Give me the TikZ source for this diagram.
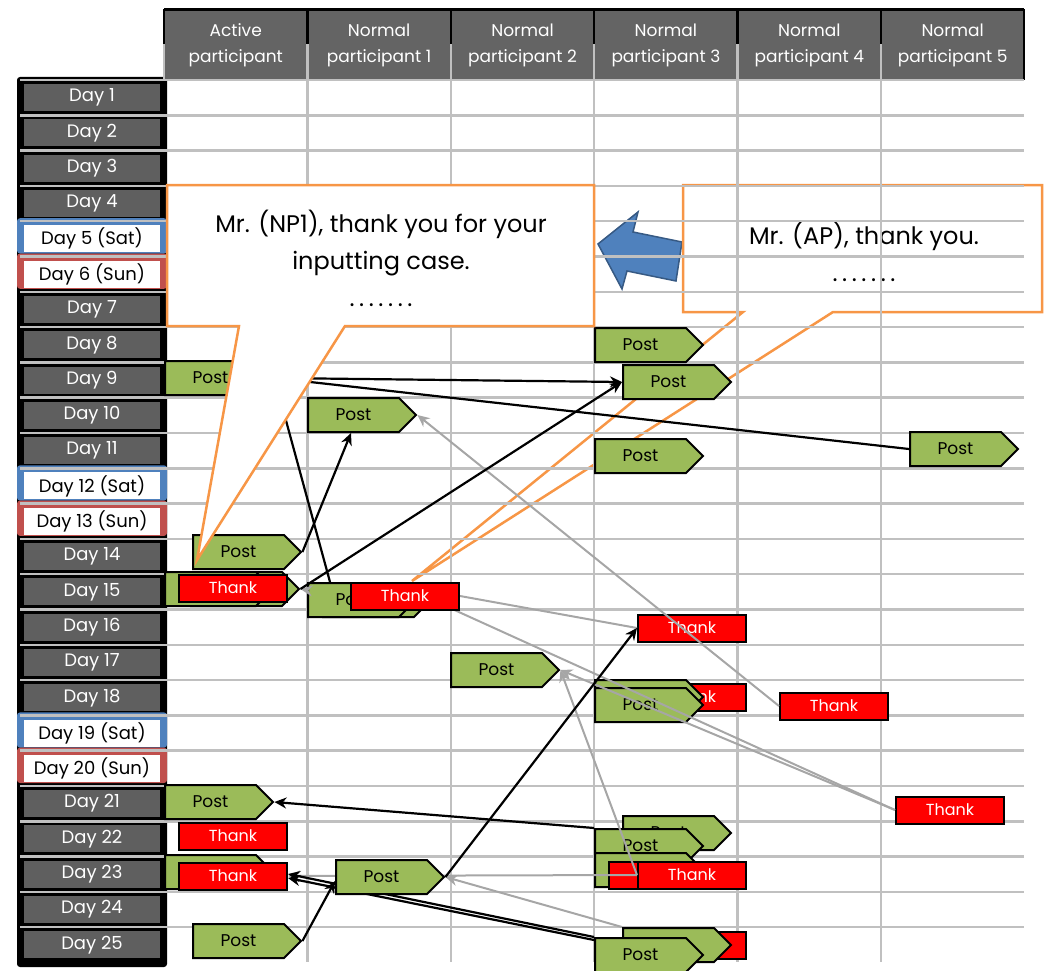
\documentclass[tikz,border=0pt]{standalone}
\usepackage{fontspec}
\setmainfont{Poppins}
\usetikzlibrary{arrows.meta, positioning, shapes.symbols}
\definecolor{postgreen}{HTML}{9BBB59}
\definecolor{thankred}{HTML}{FF0000}
\definecolor{gridgray}{HTML}{C0C0C0}
\definecolor{headgray}{HTML}{646464}
\definecolor{daygray}{HTML}{5F5F5F}
\definecolor{satblue}{HTML}{4F81BD}
\definecolor{sunred}{HTML}{C0504D}
\definecolor{noteorange}{HTML}{F79646}
\definecolor{linkgray}{HTML}{A6A6A6}
\pgfdeclarelayer{front}
\pgfsetlayers{main,front}
\newcommand{\notedots}{\hbox to 63pt{.\hfil.\hfil.\hfil.\hfil.\hfil.\hfil.}}

\begin{document}
\begin{tikzpicture}[
    x=1pt, y=-1pt,
    head/.style={fill=headgray, text=white, minimum width=143.4pt, minimum height=71pt, inner sep=0pt, align=center, font=\fontsize{17}{26}\selectfont},
    dayname/.style={fill=daygray, text=white, minimum width=136pt, minimum height=27pt, inner sep=0pt, font=\fontsize{18}{18}\selectfont},
    weekend/.style={dayname, fill=white, text=black},
    grid/.style={draw=gridgray, line width=2.5pt},
    post/.style={signal, signal to=east, signal pointer angle=90, draw=black, fill=postgreen, line width=2pt, minimum width=108pt, minimum height=34pt, inner sep=0pt, anchor=west, font=\fontsize{17}{17}\selectfont},
    thank/.style={draw=black, fill=thankred, text=white, line width=2pt, minimum width=108pt, minimum height=27pt, inner sep=0pt, anchor=west, font=\fontsize{16}{16}\selectfont},
    note/.style={draw=noteorange, line width=2.5pt, line join=miter},
    notetext/.style={align=center, font=\fontsize{24}{37}\selectfont},
    link/.style={-{Stealth[length=12pt, width=11pt]}, line width=2.2pt},
    bline/.style={line width=2.2pt},
    glink/.style={link, draw=linkgray, line width=2pt},
    gline/.style={bline, draw=linkgray, line width=2pt},
]
\useasboundingbox (0,0) rectangle (1044,971);

% Day column
\fill[black, rounded corners=3pt] (17,77) rectangle (167,967);
\foreach \k in {5,12,19}
  \fill[satblue, rounded corners=3pt] (17,{80+35.3*(\k-1)-3}) rectangle (167,{80+35.3*\k-3});
\foreach \k in {6,13,20}
  \fill[sunred, rounded corners=3pt] (17,{80+35.3*(\k-1)-3}) rectangle (167,{80+35.3*\k-3});

% Header
\foreach \c/\who in {0/{Active\\participant}, 1/{Normal\\participant 1}, 2/{Normal\\participant 2},
                     3/{Normal\\participant 3}, 4/{Normal\\participant 4}, 5/{Normal\\participant 5}}
  \node[head] (h\c) at ({164+143.4*\c+71.7},45) {\who};
\draw[line width=3pt] (164,10) -- (1024,10);
\foreach \c in {0,...,5}
  \draw[line width=2.5pt] ({164+143.4*\c},9) -- ({164+143.4*\c},44);
\draw[line width=2.5pt] (1024,9) -- (1024,80);

% Reply arrow and AP callout (behind the grid)
\filldraw[fill=satblue, draw=satblue!70!black, line width=1.5pt]
  (598,244) -- (638,212) -- (633,232) -- (682,242) -- (676,281) -- (627,271) -- (622,289) -- cycle;
\draw[note] (683,185) -- (1042,185) -- (1042,312) -- (833,312) -- (412,581) -- (743,312) -- (683,312) -- cycle;
\node[notetext] (apnote) at (864,252) {Mr. (AP), thank you.\\\notedots};

% Grid
\foreach \k in {0,...,24}
  \draw[grid] (20,{80+35.3*\k}) -- (1024,{80+35.3*\k});
\draw[grid] (164,44) -- (164,80);
\foreach \c in {1,...,5}
  \draw[grid] ({164+143.4*\c},44) -- ({164+143.4*\c},962);

% Days
\foreach \k in {1,2,3,4,7,8,9,10,11,14,15,16,17,18,21,22,23,24,25}
  \node[dayname] (d\k) at (92,{80+35.3*(\k-0.5)}) {Day \k};
\foreach \k/\w in {5/Sat,12/Sat,19/Sat,6/Sun,13/Sun,20/Sun}
  \node[weekend] (d\k) at (92,{80+35.3*(\k-0.5)}) {Day \k{} (\w)};

% Posts and thanks
\node[post] (pA9) at (164,378) {Post};
\node[post] (p3d8) at (594,345) {Post};
\node[post] (p3d9) at (622,382) {Post};
\node[post] (p1d10) at (307,415) {Post};
\node[post] (p3d11) at (594,456) {Post};
\node[post] (p5d11) at (909,449) {Post};
\node[post] (pA14) at (192,552) {Post};
\node[post] (pA15b) at (190,589) {Post};
\node[post] (pA15a) at (164,589) {Post};
\node[thank] (tA15) at (178,588) {Thank};
\node[post] (p1d15b) at (322,600) {Post};
\node[post] (p1d15a) at (307,600) {Post};
\node[thank] (t3d16) at (637,628) {Thank};
\node[post] (p2d17) at (450,670) {Post};
\node[thank] (t3d18) at (637,697) {Thank};
\node[post] (p3d18a) at (594,697) {Post};
\node[post] (p3d18b) at (594,705) {Post};
\node[thank] (t4d18) at (779,706) {Thank};
\node[thank] (t5d20) at (895,810) {Thank};
\node[post] (pA21) at (164,802) {Post};
\node[thank] (tA22) at (178,836) {Thank};
\node[post] (pA23) at (164,872) {Post};
\node[thank] (tA23) at (178,876) {Thank};
\node[post] (p3d22a) at (622,833) {Post};
\node[post] (p3d22b) at (594,846) {Post};
\node[post] (p3d23) at (594,870) {Post};
\node[thank] (t3d23a) at (608,875) {Thank};
\node[thank] (t3d23b) at (637,875) {Thank};
\node[post] (pA25) at (192,941) {Post};
\node[thank] (t3d25) at (637,945) {Thank};
\node[post] (p3d25a) at (622,945) {Post};
\node[post] (p3d25b) at (594,955) {Post};

\begin{pgfonlayer}{front}
\node[thank] (t1d15) at (350,596) {Thank};
\node[post] (p2d23) at (335,877) {Post};
\end{pgfonlayer}

% Gray links
\draw[glink] (t4d18.west) -- (p1d10.east);
\draw[gline] (p1d15b.east) -- (t5d20.west);
\draw[glink] (t5d20.west) -- (p2d17.east);
\draw[gline] (t1d15.east) -- (t3d16.west);
\draw[glink] (t3d23b.west) -- (p2d17.east);
\draw[glink] (t3d23b.west) -- (tA23.east);
\draw[glink] (p3d25a.north west) -- (p2d23.east);
\draw[glink] ([yshift=10pt]p1d15a.west) -- (pA15b.east);

% Black links
\draw[link] (pA9.east) -- (p3d9.west);
\draw[bline] (pA9.east) -- (p5d11.west);
\draw[bline] (pA9.east) -- ([xshift=23pt]p1d15a.north west);
\draw[link] (pA14.east) -- ([xshift=44pt]p1d10.south west);
\draw[link] (pA15b.east) -- (p3d9.west);
\draw[link] (p2d23.east) -- (t3d16.west);
\draw[link] (pA25.east) -- ([yshift=-4pt]p2d23.west);
\draw[link] (p3d22b.north west) -- (pA21.east);
\draw[link] (p3d25b.north west) -- ([yshift=2pt]tA23.east);
\draw[link] ([yshift=-3pt]p3d25b.north west) -- ([yshift=-2pt]tA23.east);

% NP1 callout on top
\begin{pgfonlayer}{front}
\filldraw[note, fill=white] (167,185) -- (594,185) -- (594,326) -- (345,326) -- (197,560) -- (239,326) -- (167,326) -- cycle;
\node[notetext] (np1note) at (381,258) {Mr. (NP1), thank you for your\\inputting case.\\\notedots};
\end{pgfonlayer}

\end{tikzpicture}
\end{document}
